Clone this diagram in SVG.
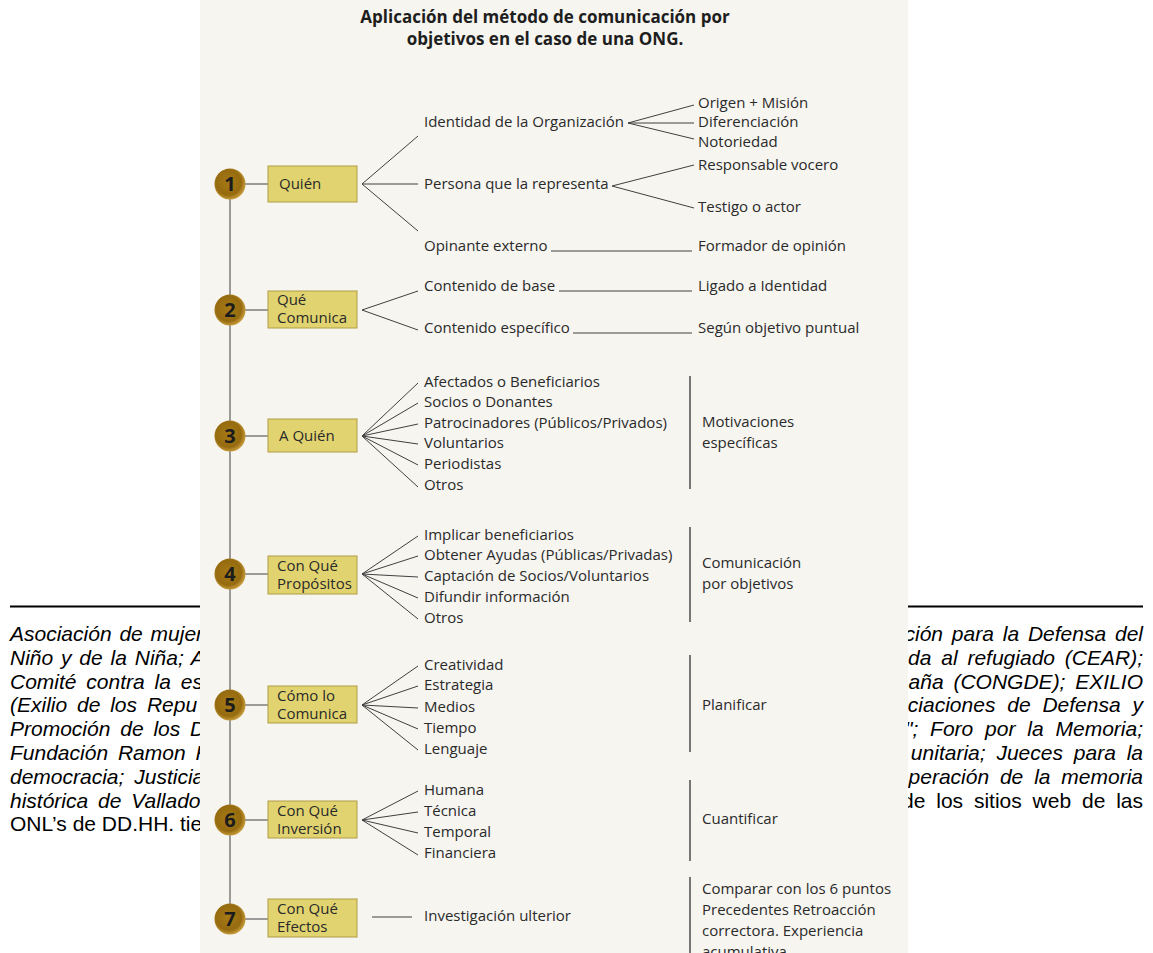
<svg xmlns="http://www.w3.org/2000/svg" width="1153" height="953" viewBox="0 0 1153 953">
<defs>
<style>
.doc{font-family:"Liberation Sans",Arial,sans-serif;font-size:21px;fill:#000;word-spacing:4px;}
.it{font-style:italic;}
.t{font-family:"Open Sans","Liberation Sans",sans-serif;font-size:15px;fill:#2a2a2a;}
.ttl{font-family:"Open Sans","Liberation Sans",sans-serif;font-size:17px;font-weight:bold;fill:#1e1e1e;text-anchor:middle;}
.num{font-family:"Open Sans","Liberation Sans",sans-serif;font-size:20px;font-weight:bold;fill:#1c1c1c;text-anchor:middle;}
.box{fill:#e1d470;stroke:#b09c45;stroke-width:1;}
.ln{stroke:#404040;stroke-width:1;fill:none;}
.bar{stroke:#404040;stroke-width:1.4;}
.rule{stroke:#000;stroke-width:2;}
</style>
<radialGradient id="cg" cx="0.45" cy="0.45" r="0.55">
<stop offset="0" stop-color="#a67a14"/>
<stop offset="0.75" stop-color="#966b10"/>
<stop offset="1" stop-color="#c49a3a"/>
</radialGradient>
</defs>
<rect width="1153" height="953" fill="#ffffff"/>
<g id="document-text">
<line class="rule" x1="10" y1="606.5" x2="205" y2="606.5"/>
<line class="rule" x1="905" y1="606.5" x2="1143" y2="606.5"/>
<text class="doc it" x="10" y="641" style="word-spacing:2px">Asociación de mujer</text>
<text class="doc it" x="10" y="665" style="word-spacing:2px">Niño y de la Niña; A</text>
<text class="doc it" x="10" y="689">Comité contra la es</text>
<text class="doc it" x="10" y="712">(Exilio de los Repu</text>
<text class="doc it" x="10" y="736">Promoción de los D</text>
<text class="doc it" x="10" y="760">Fundación Ramon R</text>
<text class="doc it" x="10" y="784">democracia; Justicia</text>
<text class="doc it" x="10" y="808">histórica de Vallado</text>
<text class="doc" x="10" y="831" style="word-spacing:0">ONL’s de DD.HH. tie</text>
<text class="doc it" x="1143" y="641" text-anchor="end" style="word-spacing:3px">ación para la Defensa del</text>
<text class="doc it" x="1143" y="665" text-anchor="end">uda al refugiado (CEAR);</text>
<text class="doc it" x="1143" y="689" text-anchor="end">aña (CONGDE); EXILIO</text>
<text class="doc it" x="1143" y="712" text-anchor="end" style="word-spacing:6px">ciaciones de Defensa y</text>
<text class="doc it" x="1143" y="736" text-anchor="end" style="word-spacing:6px">"; Foro por la Memoria;</text>
<text class="doc it" x="1143" y="760" text-anchor="end" style="word-spacing:5px">unitaria; Jueces para la</text>
<text class="doc it" x="1143" y="784" text-anchor="end" style="word-spacing:5px">peración de la memoria</text>
<text class="doc" x="1143" y="808" text-anchor="end" style="word-spacing:5px">de los sitios web de las</text>
</g>
<rect id="scan" x="200" y="0" width="708" height="953" fill="#f6f5f0"/>
<g id="title">
<text class="ttl" x="545" y="23">Aplicación del método de comunicación por</text>
<text class="ttl" x="545" y="45">objetivos en el caso de una ONG.</text>
</g>
<g id="connectors">
<line class="ln" x1="230" y1="184" x2="230" y2="919"/>
<line class="ln" x1="245" y1="184" x2="268" y2="184"/>
<line class="ln" x1="245" y1="310" x2="268" y2="310"/>
<line class="ln" x1="245" y1="436" x2="268" y2="436"/>
<line class="ln" x1="245" y1="574" x2="268" y2="574"/>
<line class="ln" x1="245" y1="705" x2="268" y2="705"/>
<line class="ln" x1="245" y1="820" x2="268" y2="820"/>
<line class="ln" x1="245" y1="919" x2="268" y2="919"/>
<path class="ln" d="M418,136 L362,184 L418,184 M362,184 L418,231"/>
<path class="ln" d="M694,105 L628,123 L694,123 M628,123 L694,139"/>
<path class="ln" d="M694,165 L612,186 L694,208"/>
<line class="ln" x1="551" y1="251" x2="692" y2="251"/>
<path class="ln" d="M418,291 L362,310 L418,330"/>
<line class="ln" x1="559" y1="291" x2="692" y2="291"/>
<line class="ln" x1="573" y1="333" x2="692" y2="333"/>
<path class="ln" d="M418,383 L362,436 L418,403 M362,436 L418,424 M362,436 L418,444 M362,436 L418,465 M362,436 L418,487"/>
<path class="ln" d="M418,536 L362,574 L418,556 M362,574 L418,577 M362,574 L418,598 M362,574 L418,619"/>
<path class="ln" d="M418,666 L362,705 L418,686 M362,705 L418,708 M362,705 L418,729 M362,705 L418,750"/>
<path class="ln" d="M418,791 L362,820 L418,812 M362,820 L418,833 M362,820 L418,855"/>
<line class="ln" x1="372" y1="917" x2="412" y2="917"/>
<line class="bar" x1="690" y1="376" x2="690" y2="489"/>
<line class="bar" x1="690" y1="527" x2="690" y2="622"/>
<line class="bar" x1="690" y1="655" x2="690" y2="752"/>
<line class="bar" x1="690" y1="780" x2="690" y2="861"/>
<line class="bar" x1="690" y1="877" x2="690" y2="953"/>
</g>
<g id="n1">
<circle cx="230" cy="184" r="15.5" fill="url(#cg)"/>
<text class="num" x="230" y="191">1</text>
<rect class="box" x="268" y="166" width="89" height="36"/>
<text class="t" x="279" y="189">Quién</text>
</g>
<g id="n1-items">
<text class="t" x="424" y="127">Identidad de la Organización</text>
<text class="t" x="698" y="108">Origen + Misión</text>
<text class="t" x="698" y="127">Diferenciación</text>
<text class="t" x="698" y="147">Notoriedad</text>
<text class="t" x="424" y="189">Persona que la representa</text>
<text class="t" x="698" y="170">Responsable vocero</text>
<text class="t" x="698" y="212">Testigo o actor</text>
<text class="t" x="424" y="251">Opinante externo</text>
<text class="t" x="698" y="251">Formador de opinión</text>
</g>
<g id="n2">
<circle cx="230" cy="310" r="15.5" fill="url(#cg)"/>
<text class="num" x="230" y="317">2</text>
<rect class="box" x="268" y="291" width="89" height="37"/>
<text class="t" x="277" y="305">Qué</text>
<text class="t" x="277" y="323">Comunica</text>
<text class="t" x="424" y="291">Contenido de base</text>
<text class="t" x="698" y="291">Ligado a Identidad</text>
<text class="t" x="424" y="333">Contenido específico</text>
<text class="t" x="698" y="333">Según objetivo puntual</text>
</g>
<g id="n3">
<circle cx="230" cy="436" r="15.5" fill="url(#cg)"/>
<text class="num" x="230" y="443">3</text>
<rect class="box" x="268" y="419" width="89" height="33"/>
<text class="t" x="279" y="441">A Quién</text>
<text class="t" x="424" y="387">Afectados o Beneficiarios</text>
<text class="t" x="424" y="407">Socios o Donantes</text>
<text class="t" x="424" y="428">Patrocinadores (Públicos/Privados)</text>
<text class="t" x="424" y="448">Voluntarios</text>
<text class="t" x="424" y="469">Periodistas</text>
<text class="t" x="424" y="490">Otros</text>
<text class="t" x="702" y="427">Motivaciones</text>
<text class="t" x="702" y="448">específicas</text>
</g>
<g id="n4">
<circle cx="230" cy="574" r="15.5" fill="url(#cg)"/>
<text class="num" x="230" y="581">4</text>
<rect class="box" x="268" y="556" width="89" height="38"/>
<text class="t" x="277" y="571">Con Qué</text>
<text class="t" x="277" y="589">Propósitos</text>
<text class="t" x="424" y="540">Implicar beneficiarios</text>
<text class="t" x="424" y="560">Obtener Ayudas (Públicas/Privadas)</text>
<text class="t" x="424" y="581">Captación de Socios/Voluntarios</text>
<text class="t" x="424" y="602">Difundir información</text>
<text class="t" x="424" y="623">Otros</text>
<text class="t" x="702" y="568">Comunicación</text>
<text class="t" x="702" y="589">por objetivos</text>
</g>
<g id="n5">
<circle cx="230" cy="705" r="15.5" fill="url(#cg)"/>
<text class="num" x="230" y="712">5</text>
<rect class="box" x="268" y="686" width="89" height="37"/>
<text class="t" x="277" y="701">Cómo lo</text>
<text class="t" x="277" y="719">Comunica</text>
<text class="t" x="424" y="670">Creatividad</text>
<text class="t" x="424" y="690">Estrategia</text>
<text class="t" x="424" y="712">Medios</text>
<text class="t" x="424" y="733">Tiempo</text>
<text class="t" x="424" y="754">Lenguaje</text>
<text class="t" x="702" y="710">Planificar</text>
</g>
<g id="n6">
<circle cx="230" cy="820" r="15.5" fill="url(#cg)"/>
<text class="num" x="230" y="827">6</text>
<rect class="box" x="268" y="801" width="89" height="37"/>
<text class="t" x="277" y="816">Con Qué</text>
<text class="t" x="277" y="834">Inversión</text>
<text class="t" x="424" y="795">Humana</text>
<text class="t" x="424" y="816">Técnica</text>
<text class="t" x="424" y="837">Temporal</text>
<text class="t" x="424" y="858">Financiera</text>
<text class="t" x="702" y="824">Cuantificar</text>
</g>
<g id="n7">
<circle cx="230" cy="919" r="15.5" fill="url(#cg)"/>
<text class="num" x="230" y="926">7</text>
<rect class="box" x="268" y="899" width="89" height="38"/>
<text class="t" x="277" y="914">Con Qué</text>
<text class="t" x="277" y="932">Efectos</text>
<text class="t" x="424" y="921">Investigación ulterior</text>
<text class="t" x="702" y="894">Comparar con los 6 puntos</text>
<text class="t" x="702" y="915">Precedentes Retroacción</text>
<text class="t" x="702" y="936">correctora. Experiencia</text>
<text class="t" x="702" y="957">acumulativa</text>
</g>
</svg>
